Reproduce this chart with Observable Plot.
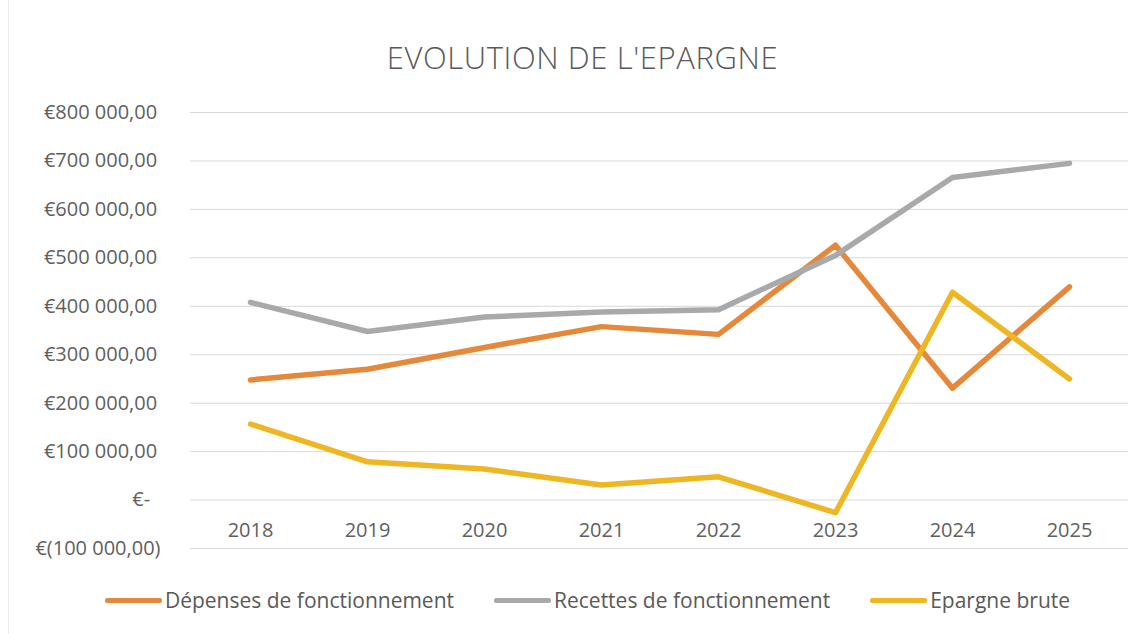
<!DOCTYPE html>
<html>
<head>
<meta charset="utf-8">
<script src="https://cdn.jsdelivr.net/npm/d3@7"></script>
<script src="https://cdn.jsdelivr.net/npm/@observablehq/plot@0.6"></script>
<style>
  html, body { margin: 0; padding: 0; background: #fff; }
  #wrap { position: relative; width: 1145px; height: 634px; overflow: hidden; font-family: "Open Sans", sans-serif; color: #595959; }
  #frame { position: absolute; left: 8px; top: 0; width: 1px; height: 634px; background: #ececec; }
  #title { position: absolute; left: 0; top: 38px; width: 1165px; text-align: center; font-size: 31px; line-height: 38px; font-weight: 300; letter-spacing: 0.6px; }
  #chart { position: absolute; left: 0; top: 90px; }
  #legend { position: absolute; left: 0; top: 585px; width: 1175px; height: 30px; display: flex; justify-content: center; align-items: center; font-size: 21px; line-height: 30px; }
  .item { display: flex; align-items: center; margin: 0 20px; }
  .sw { width: 57px; height: 5px; border-radius: 2px; margin-right: 3px; }
</style>
</head>
<body>
<div id="wrap">
  <div id="frame"></div>
  <div id="title">EVOLUTION DE L'EPARGNE</div>
  <div id="chart"></div>
  <div id="legend"></div>
</div>
<script>
const years = ["2018", "2019", "2020", "2021", "2022", "2023", "2024", "2025"];
const depenses = [248000, 270000, 315000, 358000, 342000, 526000, 231000, 440000];
const recettes = [408000, 348000, 378000, 388000, 393000, 505000, 666000, 695000];
const epargne  = [157000, 79000, 64000, 31000, 48000, -26000, 429000, 250000];
const seriesNames = ["Dépenses de fonctionnement", "Recettes de fonctionnement", "Epargne brute"];
const seriesColors = ["#E6883A", "#A8A9AB", "#EDB622"];
const yTicks = [-100000, 0, 100000, 200000, 300000, 400000, 500000, 600000, 700000, 800000];

const seriesValues = [depenses, recettes, epargne];
const data = [];
seriesNames.forEach((name, i) => {
  years.forEach((yr, j) => data.push({series: name, year: yr, value: seriesValues[i][j]}));
});

function fmt(v) {
  if (v === 0) return "€-\u00a0\u00a0";
  const s = Math.abs(v).toFixed(0).replace(/\B(?=(\d{3})+(?!\d))/g, " ") + ",00";
  return v < 0 ? "€(" + s + ")" : "€" + s + "\u2009";
}

const chart = Plot.plot({
  width: 1145,
  height: 480,
  marginLeft: 190,
  marginRight: 17,
  marginTop: 22,
  marginBottom: 22,
  style: {fontFamily: "Open Sans, sans-serif", fontSize: "20px", color: "#595959", background: "transparent"},
  x: {type: "point", domain: years, padding: 0.5, axis: null},
  y: {domain: [-100000, 800000], axis: null},
  color: {domain: seriesNames, range: seriesColors},
  marks: [
    Plot.gridY(yTicks, {stroke: "#d9d9d9", strokeOpacity: 1, strokeWidth: 1}),
    Plot.axisY(yTicks, {tickSize: 0, tickPadding: 30, tickFormat: fmt, label: null, fontSize: 20, fill: "#5f5f5f"}),
    Plot.line(data, {x: "year", y: "value", z: "series", stroke: "series", strokeWidth: 5.5, strokeLinejoin: "round", strokeLinecap: "round"}),
    Plot.text(years, {x: d => d, y: 0, dy: 31, text: d => d, fontSize: 20, fill: "#5f5f5f"})
  ]
});
document.getElementById("chart").appendChild(chart);

const legend = document.getElementById("legend");
seriesNames.forEach((name, i) => {
  const item = document.createElement("div");
  item.className = "item";
  const sw = document.createElement("div");
  sw.className = "sw";
  sw.style.background = seriesColors[i];
  const label = document.createElement("span");
  label.textContent = name;
  item.appendChild(sw);
  item.appendChild(label);
  legend.appendChild(item);
});
</script>
</body>
</html>
